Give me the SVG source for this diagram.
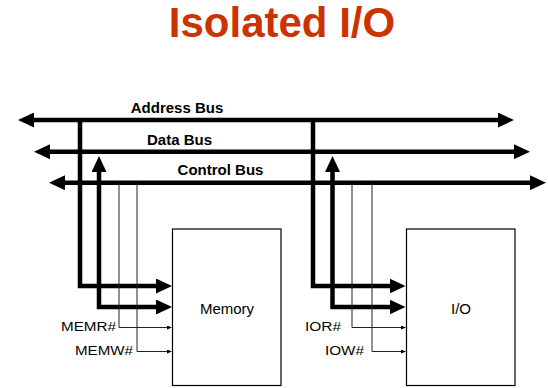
<svg xmlns="http://www.w3.org/2000/svg" width="548" height="388" viewBox="0 0 548 388">
<style>
.title{font-family:"Liberation Sans",Arial,sans-serif;font-weight:bold;font-size:42px;fill:#CC3300}
.bus{font-family:"Liberation Sans",Arial,sans-serif;font-weight:bold;font-size:15px;fill:#000}
.lbl{font-family:"Liberation Sans",Arial,sans-serif;font-size:15px;fill:#000}
.sig{font-family:"Liberation Sans",Arial,sans-serif;font-size:12.5px;fill:#000}
.thick{fill:none;stroke:#000;stroke-width:4.5;stroke-linejoin:miter}
.thin{fill:none;stroke:#222;stroke-width:1}
.box{fill:#fff;stroke:#000;stroke-width:1.2}
</style>
<defs>
<marker id="big" markerUnits="userSpaceOnUse" markerWidth="16" markerHeight="15" refX="1" refY="7.5" orient="auto-start-reverse" viewBox="0 0 16 15">
<path d="M0,0 L16,7.5 L0,15 z" fill="#000"/>
</marker>
<marker id="small" markerUnits="userSpaceOnUse" markerWidth="5" markerHeight="4" refX="0.5" refY="2" orient="auto" viewBox="0 0 5 4">
<path d="M0,0 L5,2 L0,4 z" fill="#000"/>
</marker>
</defs>
<rect width="548" height="388" fill="#fff"/>
<text class="title" x="282" y="37" text-anchor="middle">Isolated I/O</text>

<g id="memory">
<rect class="box" x="172.5" y="229" width="108.5" height="156.5"/>
<text class="lbl" x="227" y="314" text-anchor="middle">Memory</text>
</g>
<g id="io">
<rect class="box" x="406.5" y="229" width="108.5" height="156.5"/>
<text class="lbl" x="461" y="314" text-anchor="middle">I/O</text>
</g>

<g id="connectors">
<path class="thick" d="M33,120 H499" marker-start="url(#big)" marker-end="url(#big)"/>
<path class="thick" d="M49,151.7 H515" marker-start="url(#big)" marker-end="url(#big)"/>
<path class="thick" d="M64,182.7 H531" marker-start="url(#big)" marker-end="url(#big)"/>

<path class="thick" d="M80,120 V286 H157" marker-end="url(#big)"/>
<path class="thick" d="M99,171 V307 H157" marker-start="url(#big)" marker-end="url(#big)"/>
<path class="thin" d="M119,183 V327.5 H167.5" marker-end="url(#small)"/>
<path class="thin" d="M137,183 V351.5 H167.5" marker-end="url(#small)"/>

<path class="thick" d="M313,120 V286 H390.5" marker-end="url(#big)"/>
<path class="thick" d="M332.5,171 V307 H390.5" marker-start="url(#big)" marker-end="url(#big)"/>
<path class="thin" d="M352,183 V327.5 H401.5" marker-end="url(#small)"/>
<path class="thin" d="M372,183 V351.5 H401.5" marker-end="url(#small)"/>
</g>

<text class="bus" x="177" y="113" text-anchor="middle">Address Bus</text>
<text class="bus" x="179.5" y="145" text-anchor="middle">Data Bus</text>
<text class="bus" x="220.5" y="175" text-anchor="middle">Control Bus</text>

<text class="sig" x="61" y="331" textLength="55" lengthAdjust="spacingAndGlyphs">MEMR#</text>
<text class="sig" x="75" y="355" textLength="58" lengthAdjust="spacingAndGlyphs">MEMW#</text>
<text class="sig" x="305" y="331" textLength="36" lengthAdjust="spacingAndGlyphs">IOR#</text>
<text class="sig" x="325" y="355" textLength="39" lengthAdjust="spacingAndGlyphs">IOW#</text>
</svg>
